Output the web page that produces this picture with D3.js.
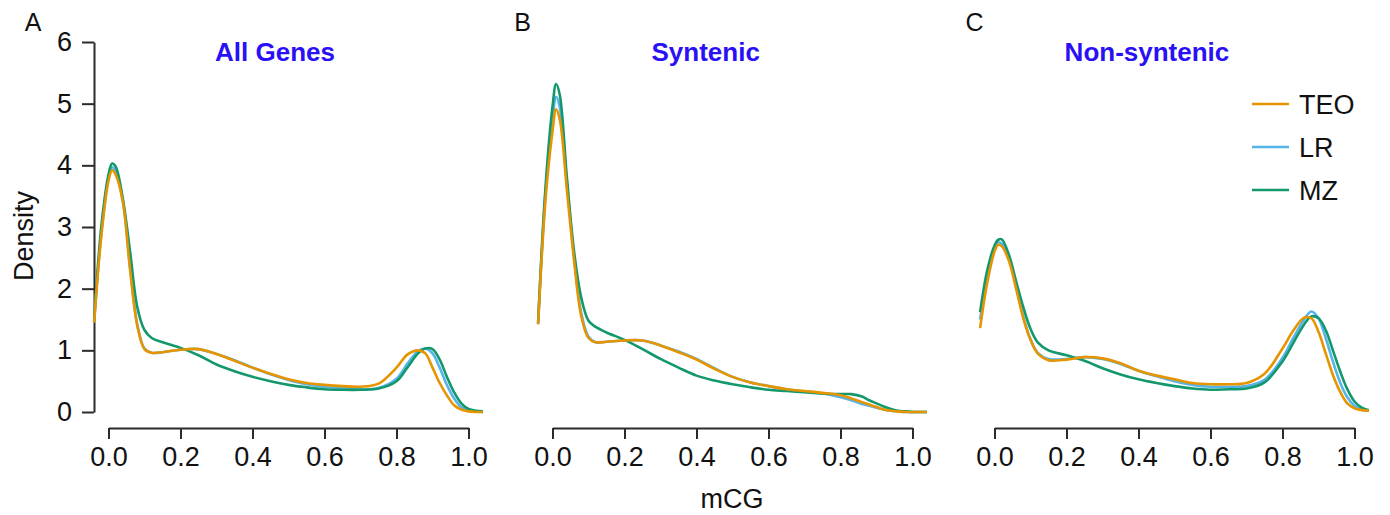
<!DOCTYPE html>
<html>
<head>
<meta charset="utf-8">
<script src="https://cdn.jsdelivr.net/npm/d3@7"></script>
<style>
  html, body { margin: 0; padding: 0; background: #fff; }
  svg { display: block; font-family: "Liberation Sans", Arial, sans-serif; }
</style>
</head>
<body>
<svg id="chart" width="1390" height="515"></svg>
<script>
// ---------------- data ----------------
const panels = ["A", "B", "C"];
const panelTitles = ["All Genes", "Syntenic", "Non-syntenic"];
const seriesNames = ["TEO", "LR", "MZ"];
const xTicks = [0, 0.2, 0.4, 0.6, 0.8, 1.0];
const yTicks = [0, 1, 2, 3, 4, 5, 6];

// mCG grid on which densities were read
const mcg = [-0.04, -0.02, 0, 0.01, 0.02, 0.04, 0.06, 0.08, 0.10, 0.12, 0.15, 0.2, 0.25, 0.3, 0.35, 0.4, 0.45, 0.5, 0.55, 0.6, 0.65, 0.7, 0.75, 0.8, 0.83, 0.86, 0.88, 0.9, 0.92, 0.94, 0.96, 0.98, 1.0, 1.02, 1.04];

// Panel A: All Genes
const allTEO = [1.45, 2.85, 3.75, 3.92, 3.85, 3.4, 2.3, 1.4, 1.02, 0.96, 0.97, 1.01, 1.02, 0.94, 0.83, 0.72, 0.62, 0.53, 0.47, 0.44, 0.42, 0.41, 0.46, 0.72, 0.93, 1.0, 0.95, 0.72, 0.47, 0.27, 0.11, 0.04, 0.01, 0.0, 0.0];
const allLR  = [1.45, 2.9, 3.8, 3.97, 3.9, 3.42, 2.35, 1.42, 1.03, 0.96, 0.97, 1.01, 1.02, 0.94, 0.84, 0.72, 0.61, 0.52, 0.45, 0.41, 0.39, 0.37, 0.39, 0.54, 0.78, 0.99, 1.03, 0.95, 0.72, 0.44, 0.22, 0.08, 0.03, 0.01, 0.0];
const allMZ  = [1.5, 3.0, 3.85, 4.03, 3.98, 3.45, 2.6, 1.7, 1.33, 1.2, 1.13, 1.04, 0.92, 0.77, 0.66, 0.57, 0.5, 0.44, 0.4, 0.37, 0.36, 0.36, 0.38, 0.5, 0.72, 0.95, 1.03, 1.02, 0.85, 0.57, 0.32, 0.14, 0.05, 0.02, 0.01];

// Panel B: Syntenic
const synTEO = [1.42, 3.4, 4.55, 4.91, 4.75, 3.6, 2.45, 1.55, 1.2, 1.13, 1.14, 1.16, 1.16, 1.08, 0.97, 0.85, 0.7, 0.57, 0.48, 0.42, 0.37, 0.34, 0.31, 0.27, 0.22, 0.16, 0.12, 0.08, 0.04, 0.02, 0.01, 0.0, 0.0, 0.0, 0.0];
const synLR  = [1.43, 3.5, 4.75, 5.11, 4.95, 3.72, 2.5, 1.6, 1.22, 1.13, 1.14, 1.16, 1.16, 1.08, 0.98, 0.86, 0.71, 0.57, 0.48, 0.42, 0.37, 0.33, 0.3, 0.24, 0.19, 0.13, 0.1, 0.07, 0.04, 0.02, 0.01, 0.0, 0.0, 0.0, 0.0];
const synMZ  = [1.45, 3.6, 4.95, 5.32, 5.15, 3.8, 2.6, 1.85, 1.48, 1.38, 1.29, 1.17, 1.02, 0.86, 0.72, 0.59, 0.51, 0.45, 0.4, 0.36, 0.34, 0.32, 0.3, 0.29, 0.29, 0.25, 0.19, 0.14, 0.09, 0.05, 0.02, 0.01, 0.0, 0.0, 0.0];

// Panel C: Non-syntenic
const nonTEO = [1.36, 2.1, 2.6, 2.71, 2.69, 2.45, 2.0, 1.52, 1.17, 0.95, 0.84, 0.85, 0.89, 0.87, 0.79, 0.67, 0.59, 0.53, 0.47, 0.45, 0.45, 0.47, 0.62, 1.03, 1.32, 1.53, 1.52, 1.3, 0.95, 0.6, 0.33, 0.14, 0.06, 0.03, 0.02];
const nonLR  = [1.5, 2.2, 2.65, 2.75, 2.73, 2.48, 2.03, 1.55, 1.18, 0.96, 0.86, 0.86, 0.89, 0.86, 0.78, 0.67, 0.58, 0.5, 0.44, 0.41, 0.41, 0.42, 0.52, 0.88, 1.2, 1.5, 1.63, 1.52, 1.2, 0.82, 0.48, 0.24, 0.1, 0.04, 0.02];
const nonMZ  = [1.62, 2.3, 2.7, 2.79, 2.8, 2.55, 2.12, 1.7, 1.35, 1.13, 1.0, 0.92, 0.83, 0.71, 0.61, 0.53, 0.47, 0.42, 0.38, 0.36, 0.37, 0.38, 0.48, 0.82, 1.12, 1.42, 1.55, 1.52, 1.33, 1.0, 0.66, 0.37, 0.17, 0.07, 0.03];

const panelData = [
  { TEO: allTEO, LR: allLR, MZ: allMZ },
  { TEO: synTEO, LR: synLR, MZ: synMZ },
  { TEO: nonTEO, LR: nonLR, MZ: nonMZ }
];

// ---------------- style / layout ----------------
const colors = { TEO: "#E69400", LR: "#56B4E9", MZ: "#13986E" };
const drawOrder = ["LR", "MZ", "TEO"];
const axisColor = "#2b2b2b";
const titleColor = "#2a10f5";
const panelLeft = [108.5, 552.5, 994.5];
const panelWidth = 360;
const titlePos = [0.4625, 0.4255, 0.4235];

const svg = d3.select("#chart");
const y = d3.scaleLinear().domain([0, 6]).range([412, 42]);
const axisY = 428;

panels.forEach((p, i) => {
  const x = d3.scaleLinear().domain([0, 1]).range([panelLeft[i], panelLeft[i] + panelWidth]);
  const g = svg.append("g");

  // x axis
  const xa = g.append("g")
    .attr("transform", `translate(0,${axisY})`)
    .call(d3.axisBottom(x).tickValues(xTicks).tickFormat(d3.format(".1f")).tickSize(11).tickSizeOuter(0).tickPadding(8));
  xa.select(".domain").attr("stroke", axisColor).attr("stroke-width", 2);
  xa.selectAll(".tick line").attr("stroke", axisColor).attr("stroke-width", 2);
  xa.selectAll(".tick text").attr("fill", "#111").style("font-size", "27px").style("font-family", "Liberation Sans, Arial, sans-serif");

  // y axis only on first panel
  if (i === 0) {
    const ya = g.append("g")
      .attr("transform", `translate(94,0)`)
      .call(d3.axisLeft(y).tickValues(yTicks).tickFormat(d3.format("d")).tickSize(12).tickSizeOuter(0).tickPadding(10));
    ya.select(".domain").attr("stroke", axisColor).attr("stroke-width", 2);
    ya.selectAll(".tick line").attr("stroke", axisColor).attr("stroke-width", 2);
    ya.selectAll(".tick text").attr("fill", "#111").style("font-size", "27px").style("font-family", "Liberation Sans, Arial, sans-serif");
  }

  // curves
  const line = d3.line()
    .x((d, k) => x(mcg[k]))
    .y(d => y(d))
    .curve(d3.curveCatmullRom.alpha(0.5));
  drawOrder.forEach(s => {
    g.append("path")
      .datum(panelData[i][s])
      .attr("d", line)
      .attr("fill", "none")
      .attr("stroke", colors[s])
      .attr("stroke-width", 2.6)
      .attr("stroke-linejoin", "round");
  });

  // title
  g.append("text")
    .attr("x", x(titlePos[i]))
    .attr("y", 61)
    .attr("text-anchor", "middle")
    .attr("fill", titleColor)
    .style("font-weight", "bold")
    .style("font-size", "26px")
    .text(panelTitles[i]);
});

// panel letters
const letterX = [33, 522.5, 974.5];
panels.forEach((p, i) => {
  svg.append("text")
    .attr("x", letterX[i]).attr("y", 31)
    .attr("text-anchor", "middle")
    .attr("fill", "#111")
    .style("font-size", "25px")
    .text(p);
});

// axis labels
svg.append("text")
  .attr("transform", "translate(33,236) rotate(-90)")
  .attr("text-anchor", "middle")
  .attr("fill", "#111")
  .style("font-size", "27px")
  .text("Density");

svg.append("text")
  .attr("x", 732).attr("y", 508)
  .attr("text-anchor", "middle")
  .attr("fill", "#111")
  .style("font-size", "27px")
  .text("mCG");

// legend
const legend = svg.append("g");
seriesNames.forEach((s, k) => {
  const ly = 104 + k * 43;
  legend.append("line")
    .attr("x1", 1252).attr("x2", 1289)
    .attr("y1", ly).attr("y2", ly)
    .attr("stroke", colors[s]).attr("stroke-width", 2.6);
  legend.append("text")
    .attr("x", 1299).attr("y", ly + 10)
    .attr("fill", "#111")
    .style("font-size", "27px")
    .text(s);
});
</script>
</body>
</html>
